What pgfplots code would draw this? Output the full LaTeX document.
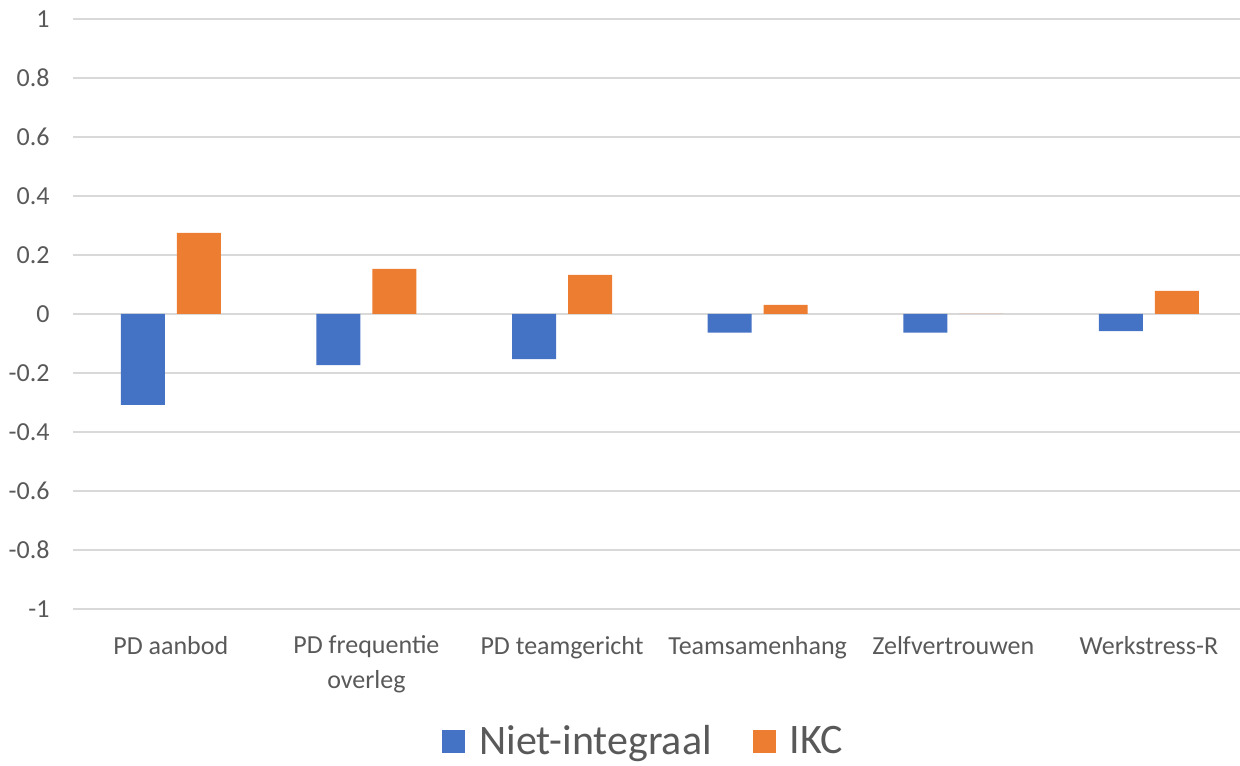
\documentclass[border=0pt]{standalone}
\usepackage{pgfplots}
\pgfplotsset{compat=1.18}
\usepackage{fontspec}
\setmainfont{Carlito}
\usetikzlibrary{calc}

\definecolor{xlblue}{RGB}{68,114,196}
\definecolor{xlorange}{RGB}{237,125,49}
\definecolor{xlgrid}{RGB}{217,217,217}
\definecolor{xltext}{RGB}{89,89,89}

\begin{document}
\begin{tikzpicture}
\begin{axis}[
name=ax,
scale only axis,
width=583.5pt,
height=295pt,
ybar=6pt,
bar width=22pt,
xmin=-0.5, xmax=5.466,
ymin=-1, ymax=1,
axis line style={draw=none},
major tick length=0pt,
xtick={0,1,2,3,4,5},
xticklabels={PD aanbod,{PD frequentie\\overleg},PD teamgericht,Teamsamenhang,Zelfvertrouwen,Werkstress-R},
ytick={-1,-0.8,-0.6,-0.4,-0.2,0,0.2,0.4,0.6,0.8,1},
yticklabels={-1,-0.8,-0.6,-0.4,-0.2,0,0.2,0.4,0.6,0.8,1},
ymajorgrids,
major grid style={color=xlgrid, line width=1pt},
ticklabel style={font=\fontsize{13}{17.5}\selectfont, text=xltext},
yticklabel style={anchor=east, inner sep=0pt, xshift=-11.5pt},
xticklabel style={anchor=north, inner sep=0pt, yshift=-13.3pt, align=center},
legend image code/.code={
    \fill[#1] (0pt,-5.5pt) rectangle (11.5pt,6pt);
},
legend style={
    draw=none, fill=none,
    font=\fontsize{21}{25}\selectfont, text=xltext,
    legend columns=2,
    anchor=south west,
    at={(axis description cs:0.3162,-0.2525)},
    inner sep=0pt,
    nodes={inner sep=0pt},
    /tikz/every odd column/.append style={column sep=7pt},
    /tikz/every even column/.append style={column sep=20.5pt},
},
]

\addplot[fill=xlblue, draw=none] coordinates {
(0,-0.308) (1,-0.173) (2,-0.153) (3,-0.063) (4,-0.063) (5,-0.058)
};
\addplot[fill=xlorange, draw=none] coordinates {
(0,0.275) (1,0.153) (2,0.133) (3,0.031) (4,0) (5,0.078)
};

\legend{Niet-integraal, IKC}
\end{axis}
\pgfresetboundingbox
\path[use as bounding box] ($(ax.south west)+(-36.5pt,-78pt)$) rectangle ($(ax.north east)+(0pt,9.5pt)$);
\end{tikzpicture}
\end{document}
